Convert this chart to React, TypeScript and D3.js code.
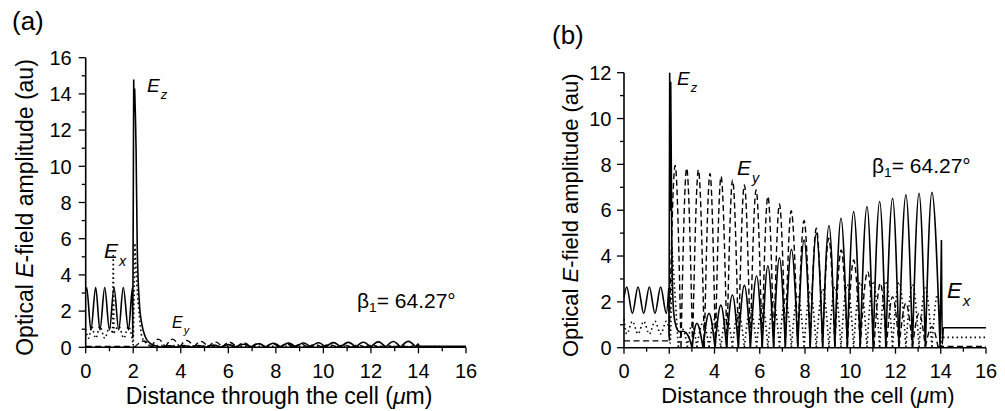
import React from "react";
import * as d3 from "d3";

// [x (µm), amplitude (au), break flag]
type P = [number, number, number?];

const xTickValues = [0, 2, 4, 6, 8, 10, 12, 14, 16];
const aYTickValues = [0, 2, 4, 6, 8, 10, 12, 14, 16];
const bYTickValues = [0, 2, 4, 6, 8, 10, 12];
const betaLabel = "64.27°";

// ---------- Panel (a) ----------
const aEz: P[] = [
  [0, 3.1], [0.04, 3.3], [0.22, 0.96], [0.42, 3.3], [0.6, 0.96], [0.8, 3.3], [1.0, 0.96],
  [1.19, 3.3], [1.39, 0.96], [1.58, 3.3], [1.8, 0.96], [1.97, 3.3], [1.98, 0.5, 1],
  [2.02, 14.8, 1], [2.045, 13.0], [2.06, 14.3, 1], [2.12, 10.9], [2.17, 5.4], [2.26, 2.4], [2.36, 1.3],
  [2.5, 0.6], [2.71, 0.22], [2.99, 0.06], [3.19, 0.0],
  [3.5, 0.08], [3.81, 0.0], [4.12, 0.1], [4.43, 0.0], [4.75, 0.1], [5.06, 0.0], [5.38, 0.12],
  [5.69, 0.0], [6.01, 0.15], [6.32, 0.0], [6.64, 0.17], [6.95, 0.0], [7.27, 0.2], [7.58, 0.0],
  [7.9, 0.22], [8.21, 0.0], [8.53, 0.23], [8.84, 0.0], [9.16, 0.24], [9.47, 0.0], [9.79, 0.25],
  [10.1, 0.0], [10.42, 0.26], [10.73, 0.0], [11.05, 0.27], [11.36, 0.0], [11.68, 0.28],
  [11.99, 0.0], [12.31, 0.3], [12.62, 0.0], [12.94, 0.32], [13.25, 0.0], [13.57, 0.33],
  [13.88, 0.02], [13.98, 0.2, 1], [14.03, 0.06, 1], [16, 0.06],
];
const aEx: P[] = [
  [0, 1.0], [0.12, 0.5], [0.25, 1.15], [0.42, 0.5], [0.6, 1.15], [0.8, 0.5], [1.0, 1.1],
  [1.13, 0.8, 1], [1.16, 5.1, 1], [1.19, 0.8, 1], [1.4, 1.15], [1.6, 0.5], [1.8, 1.15], [1.95, 0.5],
  [2.0, 0.1], [2.07, 5.7, 1], [2.15, 3.5], [2.26, 1.7], [2.36, 0.6], [2.57, 0.2], [2.8, 0.05],
  [3.19, 0.1], [3.5, 0.02], [3.81, 0.1], [4.12, 0.02], [4.43, 0.08], [4.75, 0.02], [5.06, 0.08],
  [5.38, 0.02], [6.32, 0.06], [8.21, 0.06], [10.1, 0.06], [12.0, 0.06], [14.0, 0.04], [16, 0.03],
];
const aEy: P[] = [
  [0, 0.05], [2.0, 0.05], [2.05, 0.0], [2.45, 0.35], [2.75, 0.0], [3.05, 0.45], [3.35, 0.0],
  [3.65, 0.45], [3.95, 0.0], [4.25, 0.38], [4.55, 0.0], [4.85, 0.33], [5.15, 0.0], [5.45, 0.3],
  [5.75, 0.0], [6.05, 0.28], [6.35, 0.0], [6.65, 0.25], [6.95, 0.0], [7.25, 0.22], [7.55, 0.0],
  [7.85, 0.2], [8.15, 0.0], [8.45, 0.18], [8.75, 0.0], [9.05, 0.17], [9.35, 0.0], [9.65, 0.15],
  [9.95, 0.0], [10.25, 0.15], [10.55, 0.0], [10.85, 0.13], [11.15, 0.0], [11.45, 0.12],
  [11.75, 0.0], [12.05, 0.12], [12.35, 0.0], [12.65, 0.1], [12.95, 0.0], [13.25, 0.1],
  [13.55, 0.0], [13.8, 0.08], [14.05, 0.02], [16, 0.02],
];

// ---------- Panel (b) ----------
const bEz: P[] = [
  [0, 2.2], [0.12, 2.65], [0.37, 1.5], [0.62, 2.65], [0.87, 1.5], [1.12, 2.65], [1.37, 1.5],
  [1.62, 2.65], [1.87, 1.5], [1.98, 2.6, 1], [1.99, 0.48, 1], [2.02, 12.0, 1], [2.045, 6.0],
  [2.065, 11.6, 1], [2.12, 3.8], [2.2, 1.5], [2.35, 0.8], [2.45, 0.7], [2.6, 0.72], [2.75, 0.65],
  [2.87, 0.45], [3.0, 0.03],
  [3.22, 1.06], [3.49, 0.03], [3.76, 1.5], [4.02, 0.03], [4.28, 1.86], [4.53, 0.03], [4.79, 2.3],
  [5.05, 0.03], [5.32, 2.72], [5.59, 0.03], [5.86, 3.13], [6.11, 0.03], [6.36, 3.57], [6.61, 0.03],
  [6.87, 3.92], [7.13, 0.03], [7.4, 4.29], [7.68, 0.03], [7.96, 4.7], [8.23, 0.03], [8.5, 4.99],
  [8.78, 0.03], [9.06, 5.33], [9.32, 0.03], [9.59, 5.65], [9.87, 0.03], [10.15, 5.94], [10.44, 0.03],
  [10.74, 6.16], [11.01, 0.03], [11.3, 6.38], [11.57, 0.03], [11.87, 6.52], [12.15, 0.03],
  [12.46, 6.67], [12.75, 0.03], [13.04, 6.74], [13.32, 0.03], [13.61, 6.78], [13.97, 0.05],
  [14.03, 4.7, 1], [14.07, 0.15], [14.11, 0.87, 1], [16, 0.87],
];
const bEy: P[] = [
  [0, 0.3], [2.0, 0.3, 1], [2.26, 7.95], [2.52, 0.03], [2.77, 7.83], [3.03, 0.03], [3.29, 7.76],
  [3.55, 0.03], [3.8, 7.6], [4.04, 0.03], [4.29, 7.47], [4.55, 0.03], [4.8, 7.32], [5.06, 0.03],
  [5.32, 7.1], [5.58, 0.03], [5.84, 6.88], [6.1, 0.03], [6.36, 6.6], [6.62, 0.03], [6.87, 6.27],
  [7.13, 0.03], [7.39, 5.98], [7.68, 0.03], [7.96, 5.55], [8.23, 0.03], [8.5, 5.21], [8.78, 0.03],
  [9.05, 4.78], [9.32, 0.03], [9.6, 4.27], [9.87, 0.03], [10.15, 3.83], [10.44, 0.03],
  [10.77, 3.32], [11.05, 0.03], [11.33, 2.81], [11.6, 0.03], [11.87, 2.23], [12.16, 0.03],
  [12.46, 1.94], [12.75, 0.03], [13.04, 1.5], [13.32, 0.03], [13.61, 0.92], [13.88, 0.03],
  [14.1, 0.05], [16, 0.05],
];
const bEx: P[] = [
  [0, 1.25], [0.12, 0.6], [0.37, 1.15], [0.62, 0.6], [0.87, 1.15], [1.12, 0.6], [1.37, 1.15],
  [1.62, 0.6], [1.87, 1.15], [1.99, 0.8], [2.04, 0.2], [2.12, 4.4, 1], [2.4, 0.03], [2.6, 0.8],
  [2.8, 0.03], [3.0, 1.0], [3.22, 0.03], [3.49, 1.1], [3.76, 0.03], [4.02, 1.25], [4.28, 0.03],
  [4.53, 1.4], [4.79, 0.03], [5.05, 1.55], [5.32, 0.03], [5.59, 1.7], [5.86, 0.03], [6.11, 1.85],
  [6.36, 0.03], [6.61, 2.0], [6.87, 0.03], [7.13, 2.15], [7.4, 0.03], [7.68, 2.3], [7.96, 0.03],
  [8.23, 2.45], [8.5, 0.03], [8.78, 2.55], [9.06, 0.03], [9.32, 2.65], [9.59, 0.03], [9.87, 2.75],
  [10.15, 0.03], [10.44, 2.85], [10.74, 0.03], [11.01, 2.9], [11.3, 0.03], [11.57, 2.9],
  [11.87, 0.03], [12.15, 2.85], [12.46, 0.03], [12.75, 2.75], [13.04, 0.03], [13.32, 2.6],
  [13.61, 0.03], [13.85, 2.3], [14.02, 0.05], [14.1, 0.45, 1], [16, 0.45],
];

const FONT = "'Liberation Sans', Arial, Helvetica, sans-serif";

function splitSegments(pts: P[]): P[][] {
  const segs: P[][] = [];
  let cur: P[] = [pts[0]];
  for (let i = 1; i < pts.length; i++) {
    const p = pts[i];
    cur.push(p);
    if (i < pts.length - 1) {
      const prev = pts[i - 1];
      const next = pts[i + 1];
      const cusp = p[2] === 1 || (p[1] <= prev[1] && p[1] <= next[1] && p[1] < 0.12);
      if (cusp) {
        segs.push(cur);
        cur = [p];
      }
    }
  }
  segs.push(cur);
  return segs;
}

type PanelProps = {
  label: string;
  labelX: number;
  labelY: number;
  x0: number; x1: number; y0: number; y1: number;
  yMax: number;
  yTicks: number[];
  tickFont: number;
  titleFont: number;
  xTitleX: number;
  xTitleY: number;
  yTitleX: number;
  ez: P[]; ex: P[]; ey: P[];
  annotations: React.ReactNode;
  tickGap: number;
};

function Panel(p: PanelProps) {
  const x = d3.scaleLinear().domain([0, 16]).range([p.x0, p.x1]);
  const y = d3.scaleLinear().domain([0, p.yMax]).range([p.y0, p.y1]);
  const line = d3
    .line<P>()
    .x((d) => x(d[0]))
    .y((d) => y(d[1]))
    .curve(d3.curveMonotoneX);
  const pathOf = (pts: P[]) => splitSegments(pts).map((s) => line(s) || "").join("");
  const xMinor = d3.range(0, 17, 1);
  const yMinor = d3.range(0, p.yMax + 1, 1);
  const yMid = (p.y0 + p.y1) / 2 + 5;
  return (
    <g fontFamily={FONT} fill="#000">
      <text x={p.labelX} y={p.labelY} fontSize={26}>{p.label}</text>
      {/* data */}
      <path d={pathOf(p.ex)} fill="none" stroke="#000" strokeWidth={1.6} strokeDasharray="1.5,3" />
      <path d={pathOf(p.ey)} fill="none" stroke="#000" strokeWidth={1.4} strokeDasharray="6,3.5" />
      <path d={pathOf(p.ez)} fill="none" stroke="#000" strokeWidth={1.6} />
      {/* axes */}
      <line x1={x(0)} x2={x(16)} y1={y(0)} y2={y(0)} stroke="#000" strokeWidth={1.6} />
      <line x1={x(0)} x2={x(0)} y1={y(0)} y2={y(p.yMax)} stroke="#000" strokeWidth={1.6} />
      {xMinor.map((v) => (
        <line key={"xt" + v} x1={x(v)} x2={x(v)} y1={y(0)} y2={y(0) + (v % 2 === 0 ? 6 : 4)} stroke="#000" strokeWidth={1.3} />
      ))}
      {yMinor.map((v) => (
        <line key={"yt" + v} x1={x(0)} x2={x(0) - (v % 2 === 0 ? 7 : 4)} y1={y(v)} y2={y(v)} stroke="#000" strokeWidth={1.3} />
      ))}
      {xTickValues.map((v) => (
        <text key={"xl" + v} x={x(v)} y={378} fontSize={p.tickFont} textAnchor="middle">{v}</text>
      ))}
      {p.yTicks.map((v) => (
        <text key={"yl" + v} x={x(0) - p.tickGap} y={y(v) + p.tickFont * 0.36} fontSize={p.tickFont} textAnchor="end">{v}</text>
      ))}
      <text x={p.xTitleX} y={p.xTitleY} fontSize={p.titleFont} textAnchor="middle">
        Distance through the cell (<tspan fontStyle="italic">μ</tspan>m)
      </text>
      <text transform={`translate(${p.yTitleX},${yMid}) rotate(-90)`} fontSize={p.titleFont} textAnchor="middle">
        Optical <tspan fontStyle="italic">E</tspan>-field amplitude (au)
      </text>
      {p.annotations}
    </g>
  );
}

function ELabel({ x, y, sub, size }: { x: number; y: number; sub: string; size: number }) {
  return (
    <text x={x} y={y} fontSize={size} fontStyle="italic" fontFamily={FONT}>
      E
      <tspan fontSize={size * 0.68} dx={1} dy={size * 0.38}>{sub}</tspan>
    </text>
  );
}

function Beta({ x, y, size }: { x: number; y: number; size: number }) {
  return (
    <text x={x} y={y} fontSize={size} fontFamily={FONT}>
      β<tspan fontSize={size * 0.65} dy={size * 0.18}>1</tspan>
      <tspan dy={-size * 0.18}>= {betaLabel}</tspan>
    </text>
  );
}

export default function App() {
  return (
    <svg
      width={1005}
      height={411}
      viewBox="0 0 1005 411"
      style={{ position: "absolute", left: 0, top: 0, background: "#fff" }}
    >
      <rect width={1005} height={411} fill="#fff" />
      <Panel
        label="(a)"
        labelX={12}
        labelY={30}
        x0={85.7}
        x1={466}
        y0={347.3}
        y1={57.7}
        yMax={16}
        yTicks={aYTickValues}
        tickFont={20}
        titleFont={23}
        xTitleX={279}
        xTitleY={404}
        yTitleX={33}
        tickGap={14}
        ez={aEz}
        ex={aEx}
        ey={aEy}
        annotations={
          <g>
            <ELabel x={147} y={92} sub="z" size={19} />
            <ELabel x={104} y={258} sub="x" size={21} />
            <ELabel x={172} y={328} sub="y" size={16} />
            <Beta x={357} y={308} size={21} />
          </g>
        }
      />
      <Panel
        label="(b)"
        labelX={552}
        labelY={44}
        x0={624}
        x1={986}
        y0={347.7}
        y1={72.7}
        yMax={12}
        yTicks={bYTickValues}
        tickFont={20}
        titleFont={22}
        xTitleX={808}
        xTitleY={403}
        yTitleX={578}
        tickGap={12.5}
        ez={bEz}
        ex={bEx}
        ey={bEy}
        annotations={
          <g>
            <ELabel x={677} y={85} sub="z" size={19} />
            <ELabel x={737} y={175} sub="y" size={21} />
            <ELabel x={947} y={298} sub="x" size={22} />
            <Beta x={872} y={173} size={21} />
          </g>
        }
      />
    </svg>
  );
}
